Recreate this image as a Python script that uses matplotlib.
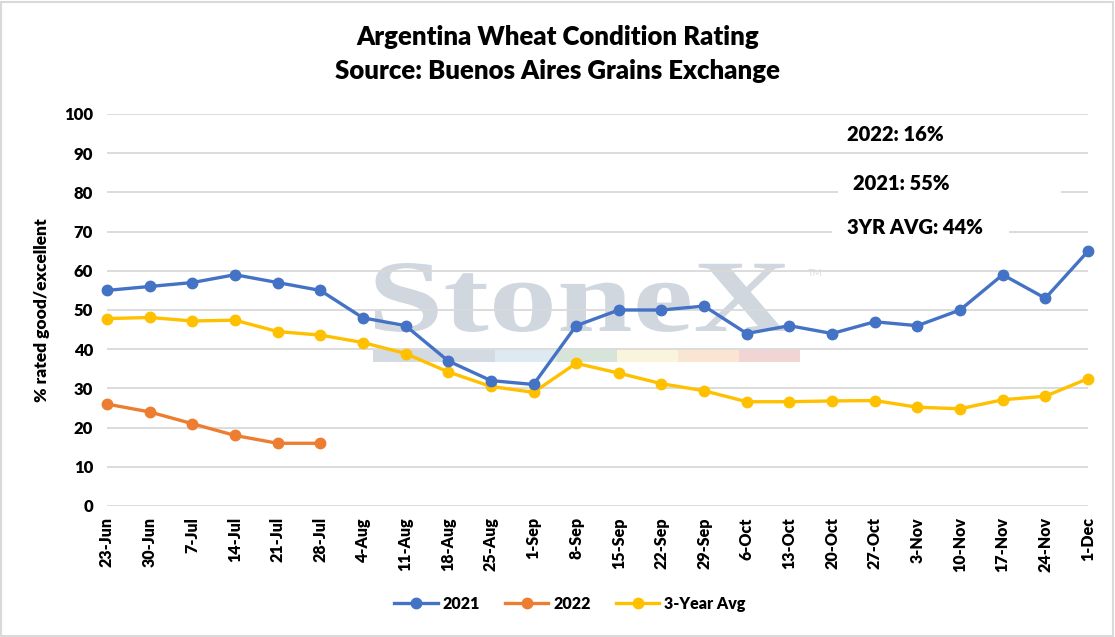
import matplotlib.pyplot as plt
import matplotlib.patches as mpatches
from matplotlib.textpath import TextPath
from matplotlib.font_manager import FontProperties
from matplotlib.transforms import Affine2D

plt.rcParams['font.family'] = ['Lato', 'DejaVu Sans']

# data
weeks = ['23-Jun', '30-Jun', '7-Jul', '14-Jul', '21-Jul', '28-Jul', '4-Aug', '11-Aug',
         '18-Aug', '25-Aug', '1-Sep', '8-Sep', '15-Sep', '22-Sep', '29-Sep', '6-Oct',
         '13-Oct', '20-Oct', '27-Oct', '3-Nov', '10-Nov', '17-Nov', '24-Nov', '1-Dec']
y2021 = [55, 56, 57, 59, 57, 55, 48, 46, 37, 32, 31, 46, 50, 50, 51, 44,
         46, 44, 47, 46, 50, 59, 53, 65]
y2022 = [26, 24, 21, 18, 16, 16]
avg3 = [47.8, 48.1, 47.2, 47.4, 44.5, 43.6, 41.7, 38.9, 34.2, 30.5, 29.0, 36.4,
        33.9, 31.2, 29.4, 26.6, 26.6, 26.8, 26.9, 25.2, 24.8, 27.1, 28.0, 32.5]
notes = ['2022: 16%', '2021: 55%', '3YR AVG: 44%']

W, H = 1115, 637
fig = plt.figure(figsize=(W / 100, H / 100), dpi=100)
ax = fig.add_axes([107 / W, 1 - 506 / H, (1088 - 107) / W, (506 - 114) / H])
ax.patch.set_alpha(0)

def px(x, y):
    return x / W, 1 - y / H

# StoneX watermark, stretched to the logo's box
tp = TextPath((0, 0), 'StoneX', size=100, prop=FontProperties(family='Liberation Serif', weight='bold'))
bb = tp.get_extents()
sx, sy = (790 - 375) / bb.width, (332 - 263) / bb.height
tr = Affine2D().translate(-bb.x0, -bb.y0).scale(sx, sy).translate(375, H - 332)
fig.patches.append(mpatches.PathPatch(tr.transform_path(tp), transform=Affine2D(),
                                      facecolor='#d0d7df', edgecolor='none', zorder=-2))
fig.text(*px(808, 276), 'TM', fontsize=7, color='#d8dde3', zorder=-2)
bar_cols = ['#d3dae2', '#deeaf2', '#d6e4d9', '#f8f5dc', '#f9e5d2', '#f1d5d5']
bar_x = [373, 495, 557, 617, 678, 739, 800]
for i, c in enumerate(bar_cols):
    fig.patches.append(mpatches.Rectangle(px(bar_x[i], 362), (bar_x[i + 1] - bar_x[i]) / W,
                                          12 / H, transform=fig.transFigure,
                                          facecolor=c, edgecolor='none', zorder=-2))

x = list(range(len(weeks)))
ax.plot(x, y2021, color='#4472C4', lw=2.4, marker='o', ms=7.5, label='2021', clip_on=False, zorder=4)
ax.plot(x[:len(y2022)], y2022, color='#ED7D31', lw=2.4, marker='o', ms=7.5, label='2022', clip_on=False, zorder=4)
ax.plot(x, avg3, color='#FFC000', lw=2.4, marker='o', ms=7.5, label='3-Year Avg', clip_on=False, zorder=3)

ax.set_xlim(0, len(weeks) - 1)
ax.set_ylim(0, 100)
ax.set_yticks(range(0, 101, 10))
ax.set_xticks(x)
ax.set_xticklabels(weeks, rotation=90, fontsize=11.5, fontweight='heavy')
for t in ax.get_yticklabels():
    t.set_fontsize(12)
    t.set_fontweight('heavy')
ax.tick_params(length=0, pad=8)
ax.tick_params(axis='y', pad=10)
ax.grid(axis='y', color='#d9d9d9', lw=1.3)
ax.set_axisbelow(True)
for s in ax.spines.values():
    s.set_visible(False)
ax.set_ylabel('% rated good/excellent', fontsize=12.5, fontweight='heavy', labelpad=10)

fig.text(0.5, 1 - 37 / H, 'Argentina Wheat Condition Rating', ha='center', va='center',
         fontsize=18.5, fontweight='heavy')
fig.text(0.5, 1 - 71 / H, 'Source: Buenos Aires Grains Exchange', ha='center', va='center',
         fontsize=18.5, fontweight='heavy')

# annotation boxes
note_pos = [(832, 134, 1040), (838, 183, 1061), (832, 227, 1009)]
for (x0, yc, x1), s in zip(note_pos, notes):
    fig.patches.append(mpatches.Rectangle(px(x0, yc + 14), (x1 - x0) / W, 28 / H,
                                          transform=fig.transFigure, facecolor='white',
                                          edgecolor='none', zorder=1))
    fig.text(*px(x0 + 15, yc), s, fontsize=14.5, fontweight='heavy', va='center', ha='left', zorder=2)

ax.legend(loc='center', bbox_to_anchor=px(570, 604), bbox_transform=fig.transFigure,
          ncol=3, frameon=False, prop={'size': 11.5, 'weight': 'heavy'},
          handlelength=2.7, handletextpad=0.3, columnspacing=1.6)

fig.patches.append(mpatches.Rectangle((0.001, 0.002), 0.997, 0.995, transform=fig.transFigure,
                                      facecolor='none', edgecolor='#d9d9d9', lw=1.5))

fig.savefig('out.png', dpi=100)
